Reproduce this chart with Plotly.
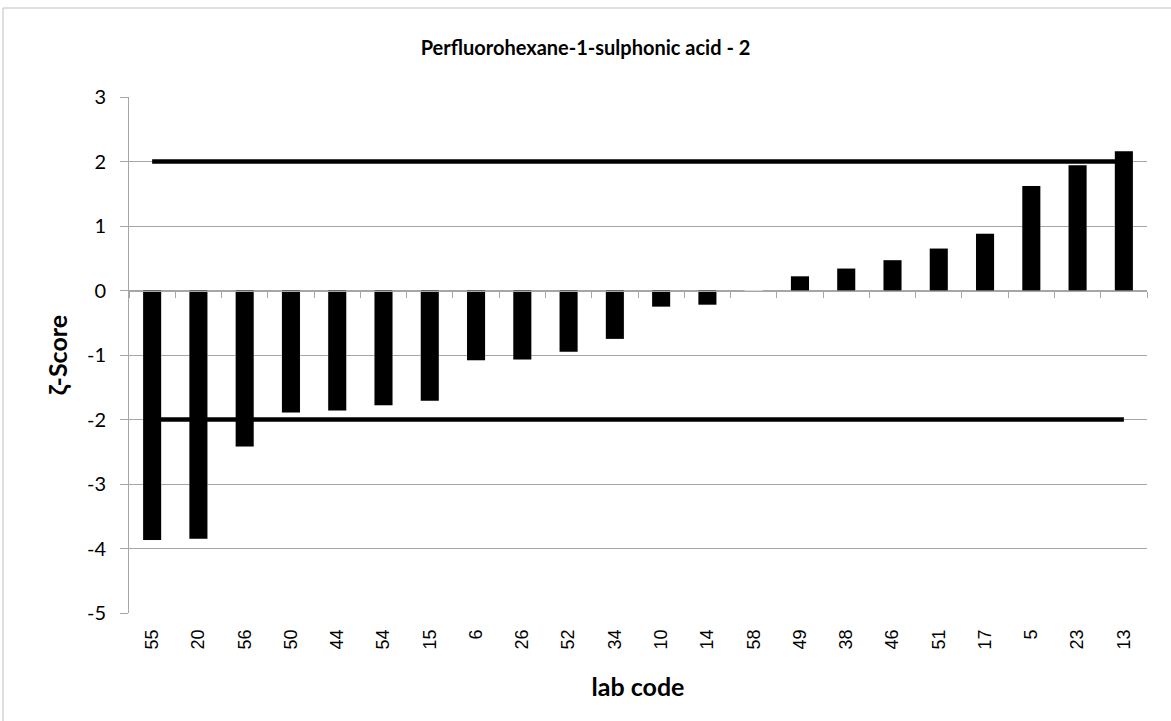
import plotly.graph_objects as go

# lab codes in plotted order and their zeta-scores
lab_codes = ["55", "20", "56", "50", "44", "54", "15", "6", "26", "52", "34",
             "10", "14", "58", "49", "38", "46", "51", "17", "5", "23", "13"]
zeta_scores = [-3.87, -3.85, -2.42, -1.89, -1.86, -1.78, -1.71, -1.08, -1.07, -0.95, -0.75,
               -0.25, -0.22, 0.0, 0.22, 0.34, 0.47, 0.65, 0.88, 1.62, 1.94, 2.16]
limits = [2, -2]
y_ticks = [3, 2, 1, 0, -1, -2, -3, -4, -5]

GRID = "#a6a6a6"
fig = go.Figure()

# bars
fig.add_trace(go.Bar(x=lab_codes, y=zeta_scores, marker=dict(color="black", line=dict(width=0)),
                     xaxis="x2", hoverinfo="x+y"))
# invisible copy to drive the bottom label axis
fig.add_trace(go.Bar(x=lab_codes, y=zeta_scores, marker=dict(color="rgba(0,0,0,0)"),
                     hoverinfo="skip", showlegend=False))

# +/-2 limit lines
for lim in limits:
    fig.add_trace(go.Scatter(x=[lab_codes[0], lab_codes[-1]], y=[lim, lim], mode="lines",
                             line=dict(color="black", width=4.5), xaxis="x2", hoverinfo="skip"))

fig.update_layout(
    width=1171, height=721,
    margin=dict(l=129, r=24, t=97, b=108),
    paper_bgcolor="white", plot_bgcolor="white",
    showlegend=False, bargap=0.61, barmode="overlay",
    title=dict(text="<b>Perfluorohexane-1-sulphonic acid - 2</b>", x=0.5, xanchor="center",
               y=1 - 48 / 721, yanchor="middle",
               font=dict(family="Lato", size=20, color="black")),
    font=dict(family="Lato", color="black"),
    xaxis=dict(type="category", categoryorder="array", categoryarray=lab_codes,
               range=[-0.5, len(lab_codes) - 0.5],
               tickangle=-90, tickfont=dict(family="Liberation Sans", size=18, color="black"),
               ticklabelstandoff=12,
               ticks="", showline=False, showgrid=False, zeroline=False,
               title=dict(text="<b>lab code</b>", font=dict(family="Lato", size=25), standoff=29)),
    xaxis2=dict(type="category", categoryorder="array", categoryarray=lab_codes,
                range=[-0.5, len(lab_codes) - 0.5], overlaying="x", anchor="free",
                position=5 / 8, side="bottom", showticklabels=False,
                ticks="outside", ticklen=6, tickcolor=GRID, tickson="boundaries",
                showline=True, linecolor=GRID, linewidth=1, showgrid=False, zeroline=False),
    yaxis=dict(range=[-5, 3], tickvals=y_ticks, ticktext=[str(v) for v in y_ticks],
               tickfont=dict(family="Lato", size=20, color="black"),
               ticks="outside", ticklen=8, tickcolor=GRID, ticklabelstandoff=10,
               showline=True, linecolor=GRID, linewidth=1,
               showgrid=True, gridcolor=GRID, gridwidth=1, zeroline=False,
               title=dict(text="<b>ζ-Score</b>", font=dict(family="Lato", size=25), standoff=12)),
    shapes=[dict(type="rect", xref="paper", yref="paper",
                 x0=-126 / 1018, x1=1.1, y0=-1.3, y1=1 + 89 / 516,
                 line=dict(color="#bfbfbf", width=1), fillcolor="rgba(0,0,0,0)", layer="below")],
)

fig.write_html("out.html")
